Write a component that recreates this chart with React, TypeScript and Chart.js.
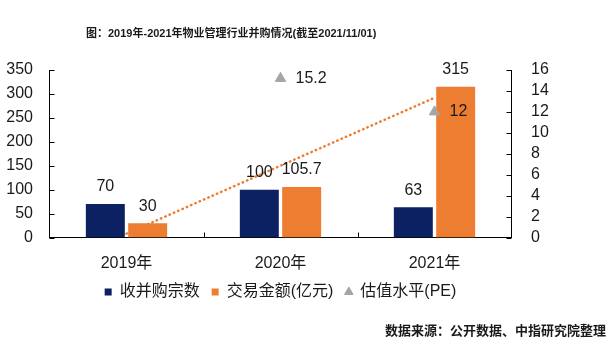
import React, { useEffect, useRef } from "react";
import { Chart, registerables } from "chart.js";

Chart.register(...registerables);

const FONT = "'Liberation Sans', 'Noto Sans CJK SC', sans-serif";

const titleText = "图：2019年-2021年物业管理行业并购情况(截至2021/11/01)";
const sourceText = "数据来源：公开数据、中指研究院整理";

const categories = ["2019年", "2020年", "2021年"];
const dealCounts = [70, 100, 63];
const dealAmounts = [30, 105.7, 315];
const peValues: (number | null)[] = [null, 15.2, 12];
const amountTrend = [8, 150, 292];

const leftAxisMax = 350;
const leftAxisStep = 50;
const rightAxisMax = 16;
const rightAxisStep = 2;

const NAVY = "#0B2161";
const ORANGE = "#ED7D31";
const GREY = "#A5A5A5";
const TEXT = "#1a1a1a";

const valueLabels = {
  id: "valueLabels",
  afterDatasetsDraw(chart: any) {
    const ctx = chart.ctx;
    ctx.save();
    ctx.font = `16px ${FONT}`;
    ctx.fillStyle = TEXT;
    chart.data.datasets.forEach((ds: any, i: number) => {
      const kind = ds.labelKind;
      if (!kind) return;
      const meta = chart.getDatasetMeta(i);
      meta.data.forEach((el: any, j: number) => {
        const v = ds.data[j];
        if (v == null) return;
        if (kind === "top") {
          ctx.textAlign = "center";
          ctx.textBaseline = "middle";
          ctx.fillText(String(v), el.x, el.y - 17);
        } else {
          ctx.textAlign = "left";
          ctx.textBaseline = "middle";
          ctx.fillText(String(v), el.x + 15, el.y);
        }
      });
    });
    ctx.restore();
  },
};

const innerTicks = {
  id: "innerTicks",
  afterDraw(chart: any) {
    const { ctx, chartArea } = chart;
    const ys = chart.scales.y;
    const y1s = chart.scales.y1;
    const xs = chart.scales.x;
    ctx.save();
    ctx.strokeStyle = "#000";
    ctx.lineWidth = 1;
    ctx.beginPath();
    ys.ticks.forEach((_t: any, i: number) => {
      const py = Math.round(ys.getPixelForTick(i)) + 0.5;
      ctx.moveTo(chartArea.left, py);
      ctx.lineTo(chartArea.left + 5, py);
    });
    y1s.ticks.forEach((_t: any, i: number) => {
      const py = Math.round(y1s.getPixelForTick(i)) + 0.5;
      ctx.moveTo(chartArea.right, py);
      ctx.lineTo(chartArea.right - 5, py);
    });
    for (let i = 1; i < categories.length; i++) {
      const px = Math.round((xs.getPixelForValue(i - 1) + xs.getPixelForValue(i)) / 2) + 0.5;
      ctx.moveTo(px, chartArea.bottom);
      ctx.lineTo(px, chartArea.bottom - 5);
    }
    ctx.stroke();
    ctx.restore();
  },
};

export default function App() {
  const ref = useRef<HTMLCanvasElement | null>(null);

  useEffect(() => {
    if (!ref.current) return;
    const chart = new Chart(ref.current, {
      type: "bar",
      data: {
        labels: categories,
        datasets: [
          {
            type: "bar",
            label: "收并购宗数",
            data: dealCounts,
            backgroundColor: NAVY,
            yAxisID: "y",
            order: 2,
            pointStyle: "rect",
            labelKind: "top",
          } as any,
          {
            type: "bar",
            label: "交易金额(亿元)",
            data: dealAmounts,
            backgroundColor: ORANGE,
            yAxisID: "y",
            order: 2,
            pointStyle: "rect",
            labelKind: "top",
          } as any,
          {
            type: "line",
            label: "估值水平(PE)",
            data: peValues,
            yAxisID: "y1",
            showLine: false,
            pointStyle: "triangle",
            pointRadius: 6,
            pointBackgroundColor: GREY,
            pointBorderColor: GREY,
            backgroundColor: GREY,
            borderColor: GREY,
            order: 0,
            labelKind: "right",
          } as any,
          {
            type: "line",
            label: "trend",
            data: amountTrend,
            yAxisID: "y",
            borderColor: ORANGE,
            borderWidth: 2.5,
            borderDash: [0.5, 4.2],
            borderCapStyle: "round",
            pointRadius: 0,
            fill: false,
            order: 5,
          } as any,
        ],
      },
      options: {
        responsive: false,
        animation: false,
        maintainAspectRatio: false,
        layout: { padding: { top: 70, bottom: 35, left: 0, right: 0 } },
        datasets: {
          bar: { categoryPercentage: 0.55, barPercentage: 0.92 },
        },
        plugins: {
          tooltip: { enabled: false },
          title: { display: false },
          legend: {
            position: "bottom",
            fullSize: false,
            labels: {
              usePointStyle: true,
              boxWidth: 7,
              boxHeight: 7,
              padding: 12,
              color: TEXT,
              font: { family: FONT, size: 16 },
              filter: (item: any) => item.text !== "trend",
              sort: (a: any, b: any) => a.datasetIndex - b.datasetIndex,
            },
          },
        },
        scales: {
          x: {
            grid: { display: false },
            border: { display: true, color: "#000", width: 1 },
            ticks: { color: TEXT, font: { family: FONT, size: 16 }, padding: 8 },
            afterFit: (s: any) => {
              s.height = 34.5;
            },
          },
          y: {
            position: "left",
            min: 0,
            max: leftAxisMax,
            grid: { display: false },
            border: { display: true, color: "#000", width: 1 },
            ticks: {
              stepSize: leftAxisStep,
              autoSkip: false,
              color: TEXT,
              font: { family: FONT, size: 16 },
              padding: 8.5,
            },
            afterFit: (s: any) => {
              s.width = 49.5;
            },
          },
          y1: {
            position: "right",
            min: 0,
            max: rightAxisMax,
            grid: { display: false },
            border: { display: true, color: "#000", width: 1 },
            ticks: {
              stepSize: rightAxisStep,
              autoSkip: false,
              color: TEXT,
              font: { family: FONT, size: 16 },
              padding: 11.5,
            },
            afterFit: (s: any) => {
              s.width = 102.5;
            },
          },
        },
      } as any,
      plugins: [valueLabels, innerTicks],
    });
    return () => chart.destroy();
  }, []);

  return (
    <div style={{ position: "fixed", left: 0, top: 0, width: 614, height: 345, background: "#fff" }}>
      <canvas ref={ref} width={614} height={345} style={{ position: "absolute", left: 0, top: 0, width: 614, height: 345 }} />
      <div
        style={{
          position: "absolute",
          left: 86,
          top: 25,
          fontFamily: FONT,
          fontWeight: "bold",
          fontSize: 11,
          lineHeight: "16px",
          color: TEXT,
          whiteSpace: "nowrap",
        }}
      >
        {titleText}
      </div>
      <div
        style={{
          position: "absolute",
          right: 8,
          top: 322,
          fontFamily: FONT,
          fontWeight: "bold",
          fontSize: 13,
          lineHeight: "18px",
          color: TEXT,
          whiteSpace: "nowrap",
        }}
      >
        {sourceText}
      </div>
    </div>
  );
}
